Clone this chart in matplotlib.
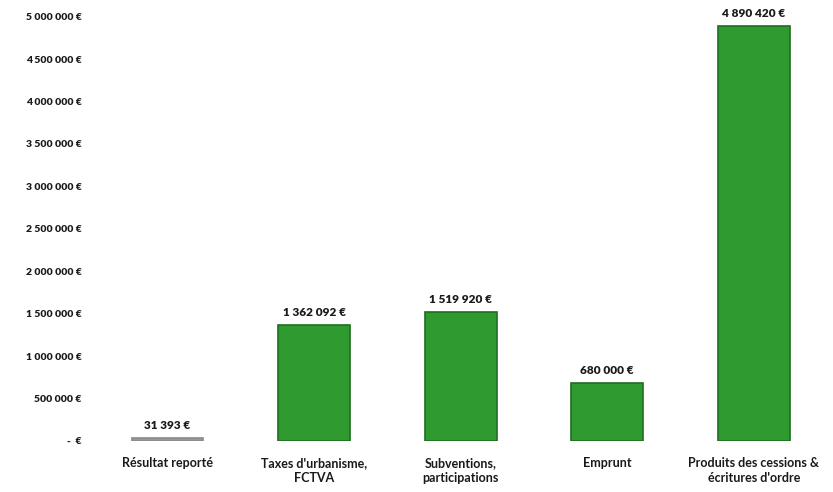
import matplotlib
matplotlib.use("Agg")
import matplotlib.pyplot as plt
from matplotlib.ticker import FuncFormatter, MultipleLocator

categories = ["Résultat reporté", "Taxes d'urbanisme,\nFCTVA", "Subventions,\nparticipations",
              "Emprunt", "Produits des cessions &\nécritures d'ordre"]
values = [31393, 1362092, 1519920, 680000, 4890420]
value_labels = ["31 393 €", "1 362 092 €", "1 519 920 €", "680 000 €", "4 890 420 €"]
bar_colors = ["#8f9f8f", "#2f9a2f", "#2f9a2f", "#2f9a2f", "#2f9a2f"]
edge_colors = ["#8a8a8a", "#1e6e1e", "#1e6e1e", "#1e6e1e", "#1e6e1e"]

plt.rcParams["font.family"] = ["Lato", "DejaVu Sans"]

fig = plt.figure(figsize=(8.33, 4.92), dpi=100)
ax = fig.add_axes([0.113, 0.104, 0.88, 0.862])

x = range(len(categories))
ax.bar(x, values, width=0.49, color=bar_colors, edgecolor=edge_colors, linewidth=1.2)

for xi, v, lab in zip(x, values, value_labels):
    ax.annotate(lab, (xi, v), xytext=(0, 5), textcoords="offset points",
                ha="center", va="bottom", fontsize=8.5, fontweight="heavy", color="#1a1a1a")

def euro(v, pos):
    if v == 0:
        return "-  €"
    return f"{int(v):,} €".replace(",", " ")

ax.set_ylim(0, 5000000)
ax.yaxis.set_major_locator(MultipleLocator(500000))
ax.yaxis.set_major_formatter(FuncFormatter(euro))
ax.set_xlim(-0.5, len(categories) - 0.5)
ax.set_xticks(list(x))
ax.set_xticklabels(categories, fontsize=9, fontweight="bold", color="#1a1a1a", linespacing=1.3)
for lbl in ax.get_yticklabels():
    lbl.set_fontsize(7.5)
    lbl.set_fontweight("heavy")
    lbl.set_color("#1a1a1a")
ax.tick_params(axis="both", length=0)
ax.tick_params(axis="x", pad=12)
ax.tick_params(axis="y", pad=9)
for s in ax.spines.values():
    s.set_visible(False)

fig.savefig("out.png", dpi=100, facecolor="white")
